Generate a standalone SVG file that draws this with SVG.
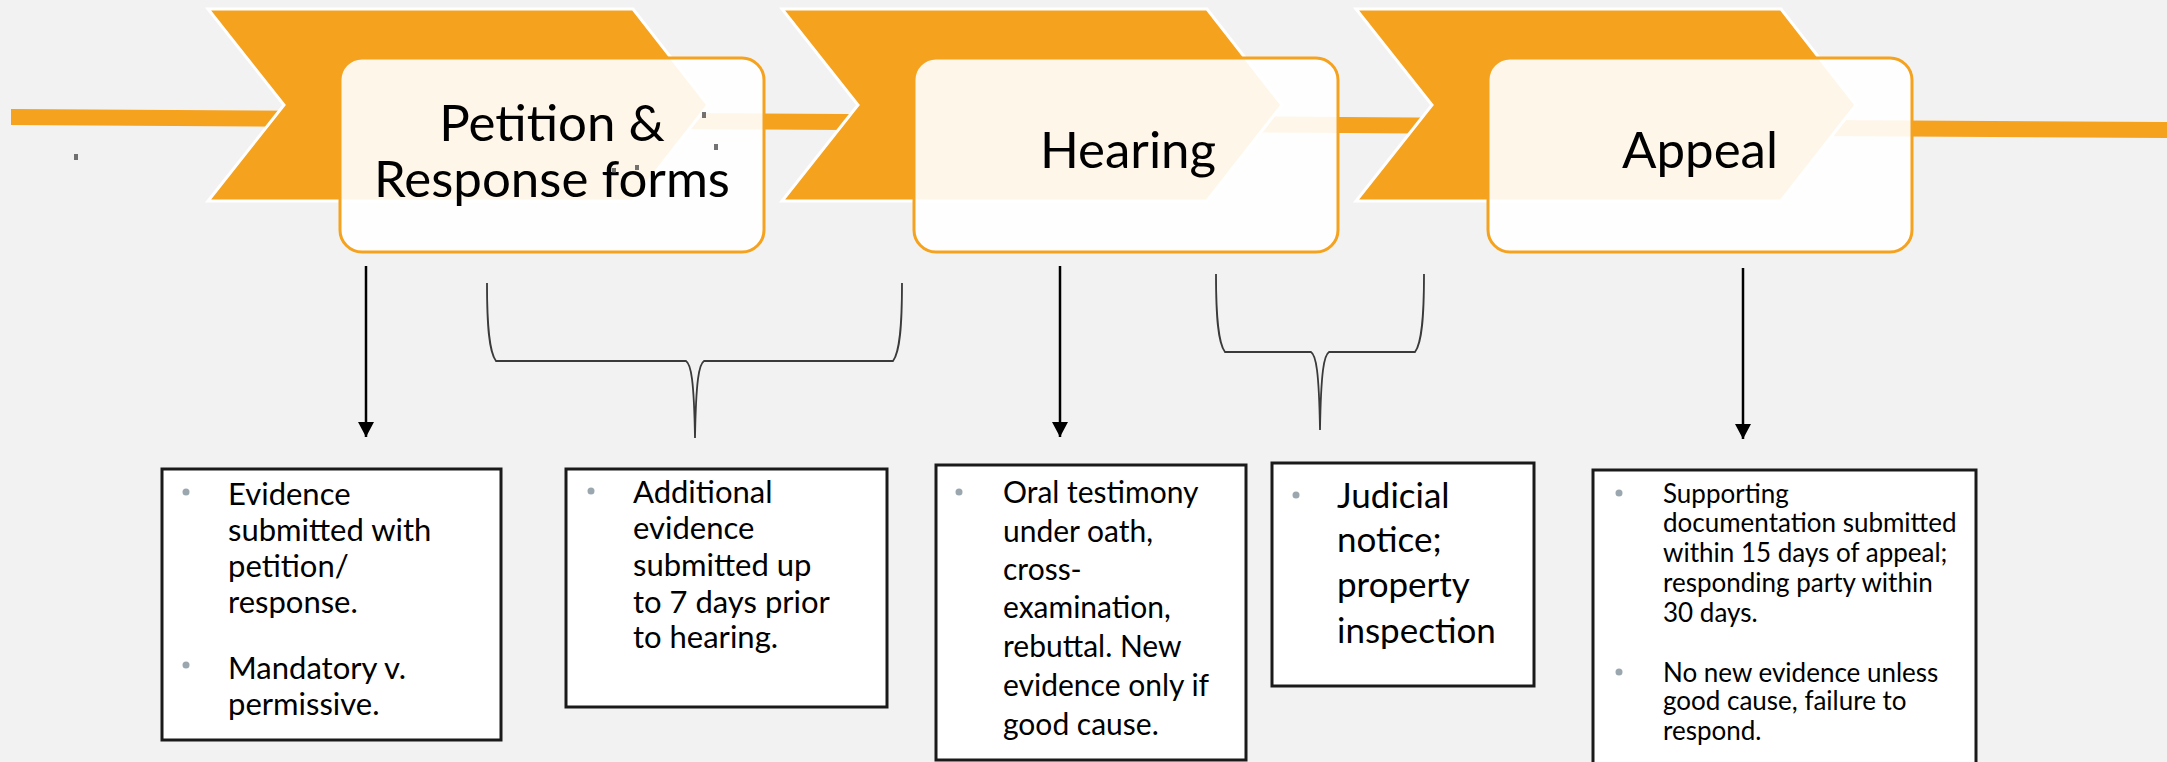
<svg xmlns="http://www.w3.org/2000/svg" width="2167" height="762" viewBox="0 0 2167 762">
<defs>
<style>
.chev{fill:#f5a21f;stroke:#ffffff;stroke-width:3}
.stage{fill:#ffffff;fill-opacity:0.9;stroke:#f5a21f;stroke-width:3}
.title{font-family:Lato,"Liberation Sans",sans-serif;font-size:51px;fill:#000;text-anchor:middle}
.card{fill:#ffffff;stroke:#1a1a1a;stroke-width:3}
.txt{font-family:Lato,"Liberation Sans",sans-serif;fill:#000}
.bul{fill:#9aa7ae}
.arrow{stroke:#000;stroke-width:2.5;fill:none}
.brace{stroke:#3a3a3a;stroke-width:1.8;fill:none}
.dot{fill:#444;fill-opacity:0.75}
</style>
<marker id="ah" markerUnits="userSpaceOnUse" markerWidth="15" markerHeight="16" refX="15" refY="8" orient="auto">
<path d="M0,0 L15,8 L0,16 z" fill="#000"/>
</marker>
</defs>
<rect x="0" y="0" width="2167" height="762" fill="#f2f2f2"/>
<polygon points="11,109 2167,122 2167,138 11,125" fill="#f5a21f"/>

<g id="stage1">
<polygon class="chev" points="208,9 633,9 708,105 633,201 208,201 284,105"/>
<rect class="stage" x="340" y="58" width="424" height="194" rx="22"/>
<text class="title" x="552" y="141">Petition &amp;</text>
<text class="title" x="552" y="197">Response forms</text>
</g>
<g id="stage2">
<polygon class="chev" points="782,9 1207,9 1282,105 1207,201 782,201 858,105"/>
<rect class="stage" x="914" y="58" width="424" height="194" rx="22"/>
<text class="title" x="1128" y="168">Hearing</text>
</g>
<g id="stage3">
<polygon class="chev" points="1356,9 1781,9 1856,105 1781,201 1356,201 1432,105"/>
<rect class="stage" x="1488" y="58" width="424" height="194" rx="22"/>
<text class="title" x="1700" y="168">Appeal</text>
</g>

<g id="marks">
<rect class="dot" x="74" y="154" width="4" height="6"/>
<rect class="dot" x="702" y="112" width="4" height="6"/>
<rect class="dot" x="714" y="144" width="4" height="6"/>
<rect class="dot" x="612" y="168" width="4" height="5"/>
<rect class="dot" x="635" y="165" width="4" height="5"/>
</g>

<g id="connectors">
<line class="arrow" x1="366" y1="266" x2="366" y2="437" marker-end="url(#ah)"/>
<line class="arrow" x1="1060" y1="266" x2="1060" y2="437" marker-end="url(#ah)"/>
<line class="arrow" x1="1743" y1="268" x2="1743" y2="439" marker-end="url(#ah)"/>
<path class="brace" d="M487,283 C487,325 489,352 496,361 L686,361 C691,364 694,380 695,438 C696,380 699,364 704,361 L893,361 C900,352 902,325 902,283"/>
<path class="brace" d="M1216,274 C1216,316 1218,343 1225,352 L1311,352 C1316,355 1319,371 1320,430 C1321,371 1324,355 1329,352 L1415,352 C1422,343 1424,316 1424,274"/>
</g>

<g id="cardA">
<rect class="card" x="162" y="469" width="339" height="271"/>
<circle class="bul" cx="186" cy="492" r="3.5"/>
<circle class="bul" cx="186" cy="665" r="3.5"/>
<text class="txt" font-size="31">
<tspan x="228" y="505">Evidence</tspan>
<tspan x="228" y="541">submitted with</tspan>
<tspan x="228" y="577">petition/</tspan>
<tspan x="228" y="613">response.</tspan>
<tspan x="228" y="679">Mandatory v.</tspan>
<tspan x="228" y="715">permissive.</tspan>
</text>
</g>
<g id="cardB">
<rect class="card" x="566" y="469" width="321" height="238"/>
<circle class="bul" cx="591" cy="491" r="3.5"/>
<text class="txt" font-size="31">
<tspan x="633" y="503">Additional</tspan>
<tspan x="633" y="539">evidence</tspan>
<tspan x="633" y="576">submitted up</tspan>
<tspan x="633" y="613">to 7 days prior</tspan>
<tspan x="633" y="648">to hearing.</tspan>
</text>
</g>
<g id="cardC">
<rect class="card" x="936" y="465" width="310" height="295"/>
<circle class="bul" cx="959" cy="492" r="3.5"/>
<text class="txt" font-size="30">
<tspan x="1003" y="503">Oral testimony</tspan>
<tspan x="1003" y="542">under oath,</tspan>
<tspan x="1003" y="580">cross-</tspan>
<tspan x="1003" y="618">examination,</tspan>
<tspan x="1003" y="657">rebuttal. New</tspan>
<tspan x="1003" y="696">evidence only if</tspan>
<tspan x="1003" y="735">good cause.</tspan>
</text>
</g>
<g id="cardD">
<rect class="card" x="1272" y="463" width="262" height="223"/>
<circle class="bul" cx="1296" cy="495" r="3.5"/>
<text class="txt" font-size="35">
<tspan x="1337" y="508">Judicial</tspan>
<tspan x="1337" y="552">notice;</tspan>
<tspan x="1337" y="597">property</tspan>
<tspan x="1337" y="643">inspection</tspan>
</text>
</g>
<g id="cardE">
<rect class="card" x="1593" y="470" width="383" height="300"/>
<circle class="bul" cx="1619" cy="493" r="3.5"/>
<circle class="bul" cx="1619" cy="672" r="3.5"/>
<text class="txt" font-size="26">
<tspan x="1663" y="503">Supporting</tspan>
<tspan x="1663" y="532">documentation submitted</tspan>
<tspan x="1663" y="562">within 15 days of appeal;</tspan>
<tspan x="1663" y="592">responding party within</tspan>
<tspan x="1663" y="622">30 days.</tspan>
<tspan x="1663" y="682">No new evidence unless</tspan>
<tspan x="1663" y="710">good cause, failure to</tspan>
<tspan x="1663" y="740">respond.</tspan>
</text>
</g>
</svg>
